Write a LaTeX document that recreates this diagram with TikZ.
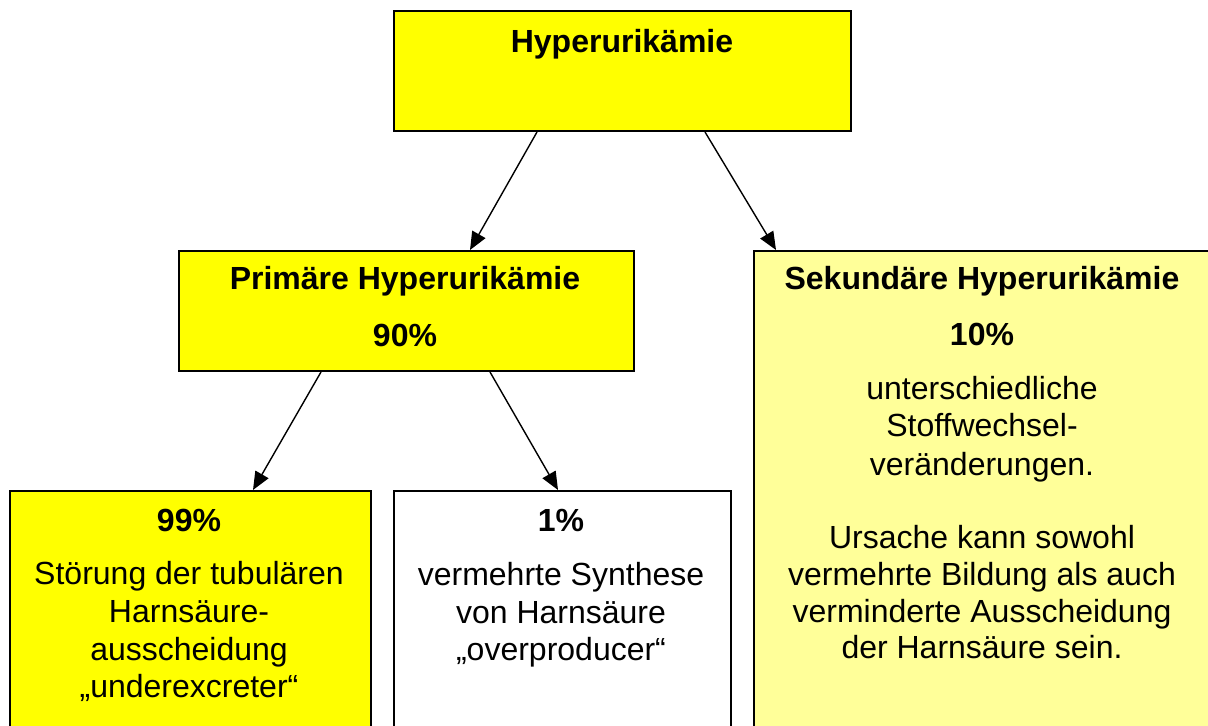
\documentclass[tikz,border=0pt]{standalone}
\usepackage{fontspec}
\setmainfont{Liberation Sans}
\usetikzlibrary{arrows.meta,calc}
\definecolor{boxyellow}{HTML}{FFFF00}
\definecolor{paleyellow}{HTML}{FFFF99}
\tikzset{
  box/.style={draw=black, line width=1pt, anchor=north west, inner sep=0pt},
  txt/.style={anchor=base, inner sep=0pt, font=\fontsize{16}{18.6}\selectfont},
  btxt/.style={anchor=base, inner sep=0pt, font=\fontsize{16}{18.6}\selectfont\bfseries},
  arr/.style={-{Triangle[length=9pt,width=7.5pt]}, line width=0.7pt},
}
\begin{document}
\begin{tikzpicture}[x=0.5pt,y=-0.5pt]
\useasboundingbox (0,0) rectangle (1208,726);
\clip (0,0) rectangle (1208,726);
% boxes
\node[box, fill=boxyellow, minimum width=228.5pt, minimum height=60pt] (top) at (393,10) {};
\node[box, fill=boxyellow, minimum width=227.5pt, minimum height=60pt] (prim) at (178,250) {};
\node[box, fill=paleyellow, minimum width=238.5pt, minimum height=245pt] (sek) at (753,250) {};
\node[box, fill=boxyellow, minimum width=180.5pt, minimum height=125pt] (under) at (9,490) {};
\node[box, fill=white, minimum width=168.5pt, minimum height=125pt] (over) at (393,490) {};
% arrows
\draw[arr] ($(top.south west)+(144,0)$) -- ($(prim.north west)+(292,0)$);
\draw[arr] ($(top.south west)+(312,0)$) -- ($(sek.north west)+(23,0)$);
\draw[arr] ($(prim.south west)+(143,0)$) -- ($(under.north west)+(244,0)$);
\draw[arr] ($(prim.south west)+(312,0)$) -- ($(over.north west)+(165,0)$);
% texts
\node[btxt] (t1) at (622,53) {Hyperurikämie};
\node[btxt] (p1) at (405,290) {Primäre Hyperurikämie};
\node[btxt] (p2) at (405,347) {90\%};
\node[btxt] (s1) at (982,290) {Sekundäre Hyperurikämie};
\node[btxt] (s2) at (982,346) {10\%};
\node[txt] (s3) at (982,400) {unterschiedliche};
\node[txt] (s4) at (982,437) {Stoffwechsel-};
\node[txt] (s5) at (982,475) {veränderungen.};
\node[txt] (s6) at (982,548) {Ursache kann sowohl};
\node[txt] (s7) at (982,585) {vermehrte Bildung als auch};
\node[txt] (s8) at (982,622) {verminderte Ausscheidung};
\node[txt] (s9) at (982,658) {der Harnsäure sein.};
\node[btxt] (u1) at (189,531) {99\%};
\node[txt] (u2) at (189,584) {Störung der tubulären};
\node[txt] (u3) at (189,622) {Harnsäure-};
\node[txt] (u4) at (189,660) {ausscheidung};
\node[txt] (u5) at (189,697) {„underexcreter“};
\node[btxt] (o1) at (561,531) {1\%};
\node[txt] (o2) at (561,585) {vermehrte Synthese};
\node[txt] (o3) at (561,623) {von Harnsäure};
\node[txt] (o4) at (561,660) {„overproducer“};
\end{tikzpicture}
\end{document}
